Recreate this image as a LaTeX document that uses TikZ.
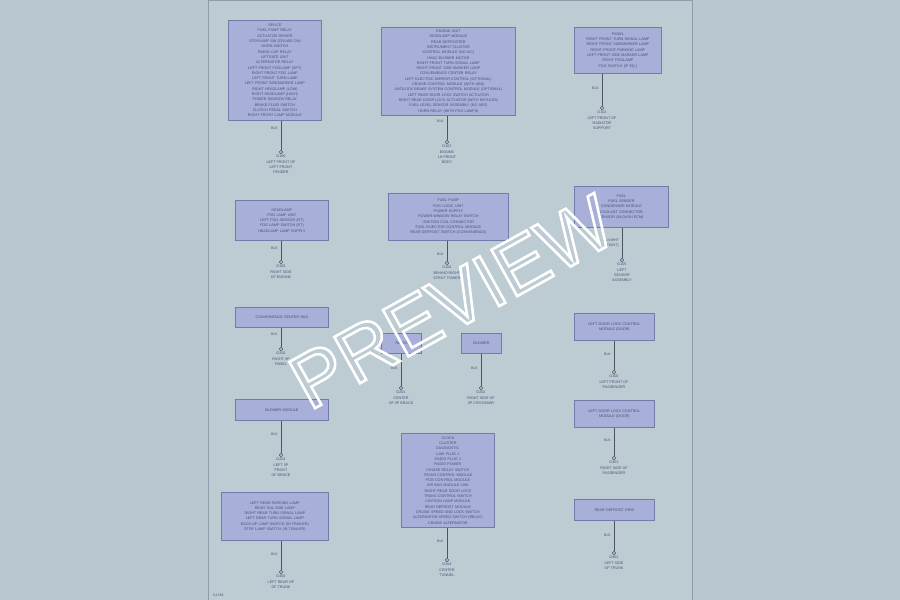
\documentclass[tikz,border=0pt]{standalone}
\usepackage{fontspec}
\setmainfont{Liberation Sans}
\definecolor{bgc}{HTML}{B8C7D0}
\definecolor{pagec}{HTML}{BDCBD3}
\definecolor{pageline}{HTML}{8E9DA8}
\definecolor{boxfill}{HTML}{A8AFD8}
\definecolor{boxline}{HTML}{727CAA}
\definecolor{txt}{HTML}{4C5276}
\definecolor{wire}{HTML}{4E5560}
\tikzset{
  cbox/.style={draw=boxline, line width=0.8pt, fill=boxfill, text=txt, align=center,
    font=\fontsize{3.7}{5.3}\selectfont, inner sep=1pt, anchor=north west},
  wirel/.style={draw=wire, line width=0.9pt},
  gnd/.style={circle, draw=wire, fill=pagec, line width=0.6pt, minimum size=3.6pt, inner sep=0pt},
  glab/.style={text=txt, align=center, font=\fontsize{3.7}{5.3}\selectfont, anchor=north, inner sep=0pt},
  wlab/.style={text=txt, align=right, font=\fontsize{3.5}{4.6}\selectfont, anchor=east, inner sep=0pt}
}
\begin{document}
\begin{tikzpicture}[x=1pt,y=-1pt]
\fill[bgc] (0,0) rectangle (900,600);
\useasboundingbox (0,0) rectangle (900,600);
\fill[pagec] (208,0.5) rectangle (692,600);
\draw[pageline, line width=0.8pt] (208,600) -- (208,0.8) -- (692,0.8) -- (692,600);

% ---------- boxes ----------
\node[cbox, minimum width=93pt, minimum height=100pt, text width=91pt] (b1) at (228,20) {SPLICE\\FUEL PUMP RELAY\\ACTUATOR DRIVER\\STOPLAMP SW (CRUISE ON)\\HORN SWITCH\\RADIO CAP RELAY\\LIFTGATE UNIT\\ALTERNATOR RELAY\\LEFT FRONT FOGLAMP (SPT)\\RIGHT FRONT FOG LAMP\\LEFT FRONT TURN LAMP\\LEFT FRONT SIDEMARKER LAMP\\RIGHT HEADLAMP (LOW)\\RIGHT HEADLAMP (HIGH)\\POWER WINDOW RELAY\\BRAKE FLUID SWITCH\\CLUTCH PEDAL SWITCH\\RIGHT FRONT LAMP MODULE};
\node[cbox, minimum width=134pt, minimum height=88pt, text width=132pt] (b2) at (381,27) {ENGINE UNIT\\HEADLAMP MODULE\\REAR DEFROSTER\\INSTRUMENT CLUSTER\\CONTROL MODULE (NO A/C)\\HVAC BLOWER MOTOR\\RIGHT FRONT TURN SIGNAL LAMP\\RIGHT FRONT SIDE MARKER LAMP\\CONVENIENCE CENTER RELAY\\LEFT ELECTRIC MIRROR CONTROL (OPTIONAL)\\CRUISE CONTROL MODULE (WITH ABS)\\ANTILOCK BRAKE SYSTEM CONTROL MODULE (OPTIONAL)\\LEFT REAR DOOR LOCK SWITCH ACTUATOR\\RIGHT REAR DOOR LOCK ACTUATOR (WITH KEYLESS)\\FUEL LEVEL SENSOR ASSEMBLY (NO ABS)\\HORN RELAY (WITH FOG LAMPS)};
\node[cbox, minimum width=87pt, minimum height=46pt, text width=85pt] (b3) at (574,27) {PANEL\\RIGHT FRONT TURN SIGNAL LAMP\\RIGHT FRONT SIDEMARKER LAMP\\RIGHT FRONT PARKING LAMP\\LEFT FRONT SIDE MARKER LAMP\\RIGHT FOGLAMP\\FOG SWITCH (IF EQ.)};
\node[cbox, minimum width=93pt, minimum height=40pt, text width=91pt] (b4) at (235,200) {HEADLAMP\\FOG LAMP UNIT\\LEFT FOG SENSOR (RT)\\FOG LAMP SWITCH (RT)\\HEADLAMP LAMP SUPPLY};
\node[cbox, minimum width=120pt, minimum height=47pt, text width=118pt] (b5) at (388,193) {FUEL PUMP\\FOG LOGIC UNIT\\POWER SUPPLY\\POWER WINDOW RELAY SWITCH\\IGNITION COIL CONNECTOR\\FUEL INJECTOR CONTROL MODULE\\REAR DEFROST SWITCH (CONVENIENCE)};
\node[cbox, minimum width=94pt, minimum height=41pt, text width=92pt] (b6) at (574,186) {FUEL\\FUEL SENDER\\CONDENSER MODULE\\COOLANT CONNECTOR\\SENSOR (IN-DASH ECM)};
\node[cbox, minimum width=93pt, minimum height=20pt, text width=91pt] (b7) at (235,307) {CONVENIENCE CENTER BUS};
\node[cbox, minimum width=40pt, minimum height=20pt, text width=38pt] (b8) at (381,333) {RADIO};
\node[cbox, minimum width=40pt, minimum height=20pt, text width=38pt] (b9) at (461,333) {BLOWER};
\node[cbox, minimum width=80pt, minimum height=27pt, text width=78pt] (b10) at (574,313) {LEFT DOOR LOCK CONTROL\\MODULE (DOOR)};
\node[cbox, minimum width=93pt, minimum height=21pt, text width=91pt] (b11) at (235,399) {BLOWER MODULE};
\node[cbox, minimum width=93pt, minimum height=94pt, text width=91pt] (b12) at (401,433) {CLOCK\\CLUSTER\\DIAGNOSTIC\\LINK PLUG 1\\RADIO PLUG 1\\RADIO POWER\\CRUISE RELAY SWITCH\\TRANS CONTROL MODULE\\PCM CONTROL MODULE\\AIR BAG MODULE LINK\\RIGHT REAR DOOR LOCK\\TRANS CONTROL SWITCH\\IGNITION LAMP MODULE\\REAR DEFROST MODULE\\CRUISE SPEED AND LOCK SWITCH\\ALTERNATOR SPEED SWITCH (RELAY)\\CRUISE ALTERNATOR};
\node[cbox, minimum width=80pt, minimum height=27pt, text width=78pt] (b13) at (574,400) {LEFT DOOR LOCK CONTROL\\MODULE (DOOR)};
\node[cbox, minimum width=107pt, minimum height=48pt, text width=105pt] (b14) at (221,492) {LEFT REAR PARKING LAMP\\REAR TAIL SIDE LAMP\\RIGHT REAR TURN SIGNAL LAMP\\LEFT REAR TURN SIGNAL LAMP\\BACK-UP LAMP SWITCH (IN TRAILER)\\STOP LAMP SWITCH (IN TRAILER)};
\node[cbox, minimum width=80pt, minimum height=21pt, text width=78pt] (b15) at (574,499) {REAR DEFROST GRID};

% ---------- grounds ----------
\node[gnd] (g1) at (281,152) {};
\node[gnd] (g2) at (447,142) {};
\node[gnd] (g3) at (602,108) {};
\node[gnd] (g4) at (281,262) {};
\node[gnd] (g5) at (447,263) {};
\node[gnd] (g6) at (622,260) {};
\node[gnd] (g7) at (281,349) {};
\node[gnd] (g8) at (401,388) {};
\node[gnd] (g9) at (481,388) {};
\node[gnd] (g10) at (614,372) {};
\node[gnd] (g11) at (281,455) {};
\node[gnd] (g12) at (447,560) {};
\node[gnd] (g13) at (614,458) {};
\node[gnd] (g14) at (281,572) {};
\node[gnd] (g15) at (614,553) {};

% ---------- wires ----------
\foreach \b/\g in {b1/g1,b2/g2,b3/g3,b4/g4,b5/g5,b6/g6,b7/g7,b8/g8,b9/g9,b10/g10,b11/g11,b12/g12,b13/g13,b14/g14,b15/g15}{
  \draw[wirel] (\b.south -| \g) -- (\g.north);
}

% ---------- wire labels ----------
\node[wlab] (w1) at (278,128) {BLK};
\node[wlab] (w2) at (444,121) {BLK};
\node[wlab] (w3) at (599,88) {BLK};
\node[wlab] (w4) at (278,248) {BLK};
\node[wlab] (w5) at (444,254) {BLK};
\node[wlab] (w6) at (619,243) {BLK/WHT\\(TWIST)};
\node[wlab] (w7) at (278,334) {BLK};
\node[wlab] (w8) at (398,368) {BLK};
\node[wlab] (w9) at (478,368) {BLK};
\node[wlab] (w10) at (611,354) {BLK};
\node[wlab] (w11) at (278,434) {BLK};
\node[wlab] (w12) at (444,541) {BLK};
\node[wlab] (w13) at (611,440) {BLK};
\node[wlab] (w14) at (278,554) {BLK};
\node[wlab] (w15) at (611,535) {BLK};

% ---------- ground labels ----------
\node[glab] (t1) at (281,155) {G100\\LEFT FRONT OF\\LEFT FRONT\\FENDER};
\node[glab] (t2) at (447,145) {G101\\ENGINE\\LH FRONT\\BODY};
\node[glab] (t3) at (602,111) {G102\\LEFT FRONT OF\\RADIATOR\\SUPPORT};
\node[glab] (t4) at (281,265) {G103\\RIGHT SIDE\\OF ENGINE};
\node[glab] (t5) at (447,266) {G104\\BEHIND RIGHT\\STRUT TOWER};
\node[glab] (t6) at (622,263) {G105\\LEFT\\SENSOR\\ASSEMBLY};
\node[glab] (t7) at (281,352) {G200\\RIGHT I/P\\PANEL};
\node[glab] (t8) at (401,391) {G201\\CENTER\\OF I/P BRACE};
\node[glab] (t9) at (481,391) {G202\\RIGHT SIDE OF\\I/P CROSSBAR};
\node[glab] (t10) at (614,375) {G300\\LEFT FRONT OF\\PASSENGER};
\node[glab] (t11) at (281,458) {G203\\LEFT I/P\\FRONT\\OF BRACE};
\node[glab] (t12) at (447,563) {G204\\CENTER\\TUNNEL};
\node[glab] (t13) at (614,461) {G301\\RIGHT SIDE OF\\PASSENGER};
\node[glab] (t14) at (281,575) {G400\\LEFT REAR OF\\OF TRUNK};
\node[glab] (t15) at (614,556) {G401\\LEFT SIDE\\OF TRUNK};

\node[text=txt, font=\fontsize{3.4}{4}\selectfont, anchor=south west, inner sep=0pt] (ref) at (213,597) {G1788};

% ---------- watermark ----------
\node[text=white, rotate=29, font=\fontsize{77}{77}\selectfont, inner sep=0pt] (wm) at (452,302)
  {\special{pdf:literal direct 1 Tr 2.6 w 1 1 1 RG}PREVIEW\special{pdf:literal direct 0 Tr}};
\end{tikzpicture}
\end{document}
